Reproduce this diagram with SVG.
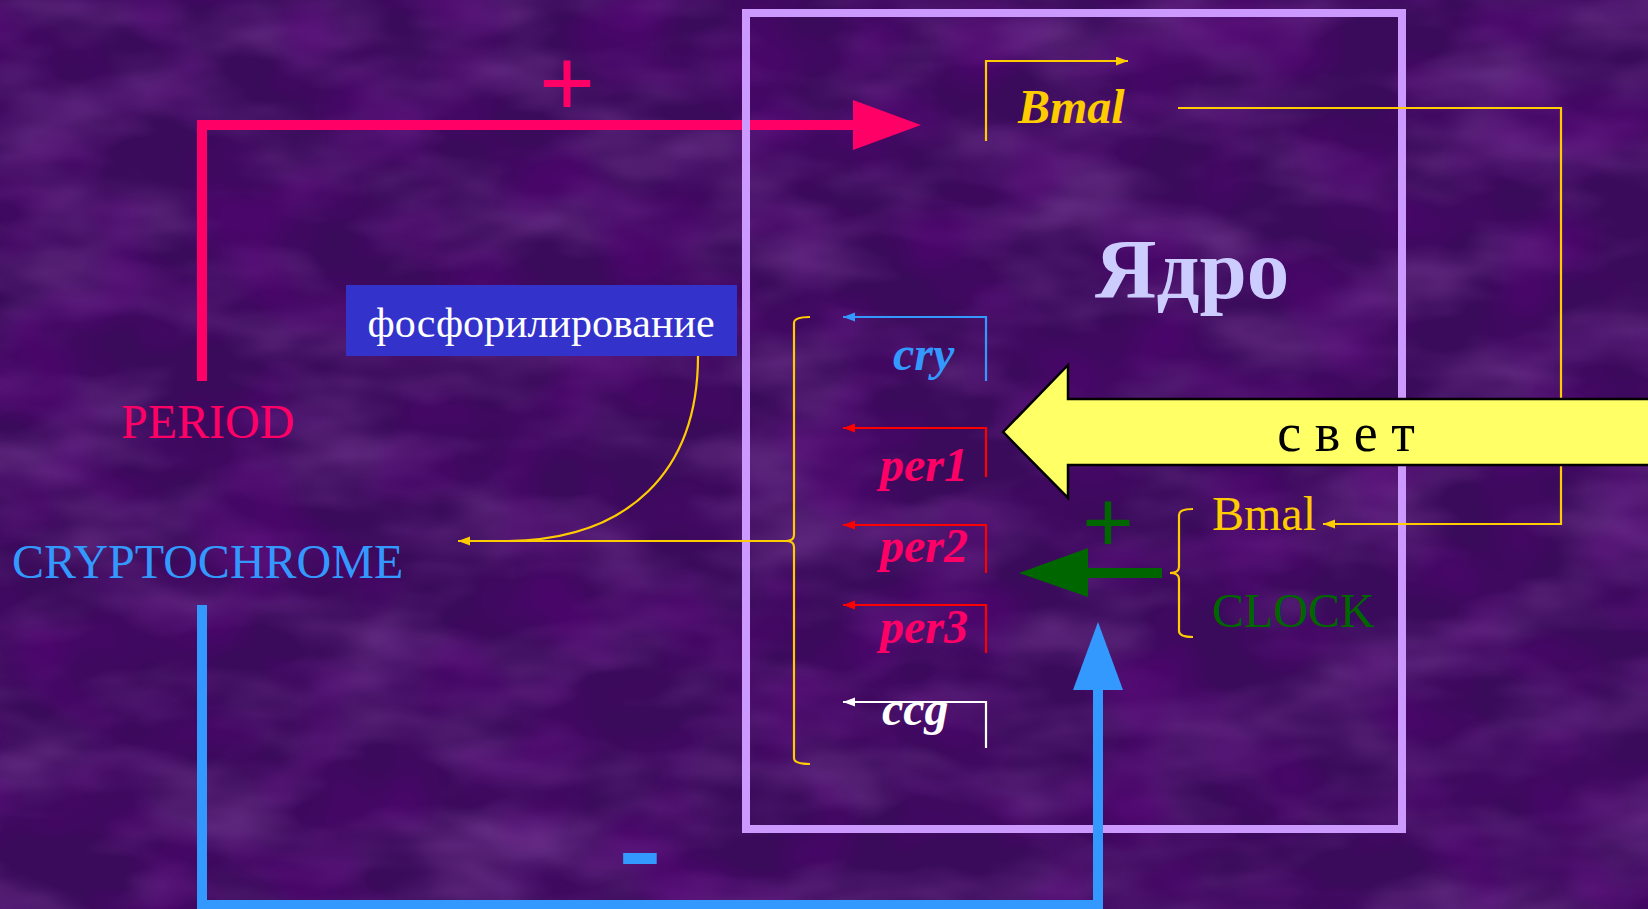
<svg xmlns="http://www.w3.org/2000/svg" width="1648" height="909" viewBox="0 0 1648 909">
<defs>
<style>
.serif{font-family:"Liberation Serif","Times New Roman","DejaVu Serif",serif;}
.gene{font-family:"Liberation Serif","Times New Roman",serif;font-size:48px;font-weight:bold;font-style:italic;}
.lbl{font-family:"Liberation Serif","Times New Roman",serif;font-size:48px;}
.thin{fill:none;stroke-width:2.2;}
.thick{fill:none;stroke-width:10;stroke-linejoin:miter;stroke-linecap:butt;}
</style>
<filter id="tex" x="0" y="0" width="100%" height="100%">
<feTurbulence type="fractalNoise" baseFrequency="0.007 0.016" numOctaves="3" seed="7"/>
<feColorMatrix type="matrix" values="0 0 0 0 0.36  0 0 0 0 0.12  0 0 0 0 0.52  0.8 0 0 0 -0.32"/>
</filter>
<filter id="tex2" x="0" y="0" width="100%" height="100%">
<feTurbulence type="fractalNoise" baseFrequency="0.01 0.012" numOctaves="2" seed="21"/>
<feColorMatrix type="matrix" values="0 0 0 0 0.12  0 0 0 0 0.0  0 0 0 0 0.22  1.1 0 0 0 -0.45"/>
</filter>
<marker id="mBlue" markerUnits="userSpaceOnUse" markerWidth="13" markerHeight="10" refX="12" refY="4.5" orient="auto"><path d="M0,0 L12,4.5 L0,9 z" fill="#3399FF"/></marker>
<marker id="mRed" markerUnits="userSpaceOnUse" markerWidth="13" markerHeight="10" refX="12" refY="4.5" orient="auto"><path d="M0,0 L12,4.5 L0,9 z" fill="#FF0000"/></marker>
<marker id="mWhite" markerUnits="userSpaceOnUse" markerWidth="13" markerHeight="10" refX="12" refY="4.5" orient="auto"><path d="M0,0 L12,4.5 L0,9 z" fill="#FFFFFF"/></marker>
<marker id="mGold" markerUnits="userSpaceOnUse" markerWidth="13" markerHeight="10" refX="12" refY="4.5" orient="auto"><path d="M0,0 L12,4.5 L0,9 z" fill="#FFCC00"/></marker>
<linearGradient id="gGlow" x1="0" y1="0" x2="1" y2="0">
<stop offset="0" stop-color="#FFCC00" stop-opacity="0"/>
<stop offset="1" stop-color="#FFCC00" stop-opacity="0.9"/>
</linearGradient>
</defs>

<g id="background">
<rect width="1648" height="909" fill="#3A0A5B"/>
<rect width="1648" height="909" filter="url(#tex)"/>
<rect width="1648" height="909" filter="url(#tex2)"/>
</g>

<g id="connectors">
<g id="period-arrow">
<path class="thick" d="M202,381 L202,125 L856,125" stroke="#FF0066"/>
<polygon points="853,100 921,125 853,150" fill="#FF0066"/>
</g>
</g>

<g id="nucleus">
<rect x="746" y="13" width="656" height="816" fill="none" stroke="#CC99FF" stroke-width="8"/>
<text x="1095" y="298" class="serif" font-size="85" font-weight="bold" fill="#CCCCFF">Ядро</text>
</g>

<g id="connectors2">
<path class="thin" d="M986,141 L986,61 L1128,61" stroke="#FFCC00" marker-end="url(#mGold)"/>
<path class="thin" d="M1178,108 L1561,108 L1561,524 L1323,524" stroke="#FFCC00" marker-end="url(#mGold)"/>
<path class="thin" d="M986,381 L986,317 L843,317" stroke="#3399FF" marker-end="url(#mBlue)"/>
<path class="thin" d="M986,477 L986,428 L843,428" stroke="#FF0000" marker-end="url(#mRed)"/>
<path class="thin" d="M986,573 L986,525 L843,525" stroke="#FF0000" marker-end="url(#mRed)"/>
<path class="thin" d="M986,653 L986,605 L843,605" stroke="#FF0000" marker-end="url(#mRed)"/>
<path class="thin" d="M986,748 L986,702 L843,702" stroke="#FFFFFF" marker-end="url(#mWhite)"/>
<path class="thin" d="M810,317 Q794,317 794,323 L794,535 Q794,541 786,541 Q794,541 794,547 L794,758 Q794,764 810,764" stroke="#FFCC00"/>
<path class="thin" d="M786,541 L458,541" stroke="#FFCC00" marker-end="url(#mGold)"/>
<path class="thin" d="M698,356 C698,470 630,541 504,541" stroke="#FFCC00"/>
<g id="cry-arrow">
<path class="thick" d="M202,605 L202,905 L1098,905 L1098,688" stroke="#3399FF"/>
<polygon points="1098,622 1073,690 1123,690" fill="#3399FF"/>
</g>
<g id="clock-arrow">
<rect x="1086" y="568" width="76" height="10" fill="#006600"/>
<polygon points="1019,573 1088,548 1088,597" fill="#006600"/>
<line x1="1076" y1="573" x2="1170" y2="573" stroke="url(#gGlow)" stroke-width="2"/>
<path class="thin" d="M1193,509 Q1179,509 1179,515 L1179,567 Q1179,573 1170,573 Q1179,573 1179,579 L1179,631 Q1179,637 1193,637" stroke="#FFCC00"/>
</g>
</g>

<g id="light-arrow">
<path d="M1003,432 L1068,365 L1068,399 L1660,399 L1660,465 L1068,465 L1068,498 Z" fill="#FFFF66" stroke="#000000" stroke-width="2.5" stroke-linejoin="miter"/>
<text x="1346" y="451" class="serif" font-size="54" fill="#000000" text-anchor="middle">с в е т</text>
</g>

<g id="phospho">
<rect x="346" y="285" width="391" height="71" fill="#3333CC"/>
<text x="541" y="337" class="serif" font-size="42" fill="#FFFFFF" text-anchor="middle">фосфорилирование</text>
</g>

<g id="period"><text x="121" y="438" class="lbl" fill="#FF0066">PERIOD</text></g>
<g id="cryptochrome"><text x="12" y="578" class="lbl" fill="#3399FF">CRYPTOCHROME</text></g>

<g id="gene-bmal"><text x="1018" y="123" class="gene" fill="#FFCC00">Bmal</text></g>
<g id="gene-cry"><text x="893" y="370" class="gene" fill="#3399FF">cry</text></g>
<g id="gene-per1"><text x="880" y="481" class="gene" fill="#FF0066">per1</text></g>
<g id="gene-per2"><text x="880" y="562" class="gene" fill="#FF0066">per2</text></g>
<g id="gene-per3"><text x="880" y="643" class="gene" fill="#FF0066">per3</text></g>
<g id="gene-ccg"><text x="882" y="725" class="gene" fill="#FFFFFF">ccg</text></g>

<g id="bmal-protein"><text x="1212" y="530" class="lbl" fill="#FFCC00">Bmal</text></g>
<g id="clock-protein"><text x="1212" y="627" class="lbl" fill="#006600">CLOCK</text></g>

<g id="signs">
<text x="567" y="117" class="serif" font-size="100" font-weight="bold" fill="#FF0066" text-anchor="middle">+</text>
<text x="1108" y="553" class="serif" font-size="92" font-weight="bold" fill="#006600" text-anchor="middle">+</text>
<text transform="translate(640,883) scale(1.42,1)" x="0" y="0" font-family="Liberation Sans, Arial, sans-serif" font-size="93" font-weight="bold" fill="#3399FF" text-anchor="middle">-</text>
</g>
</svg>
